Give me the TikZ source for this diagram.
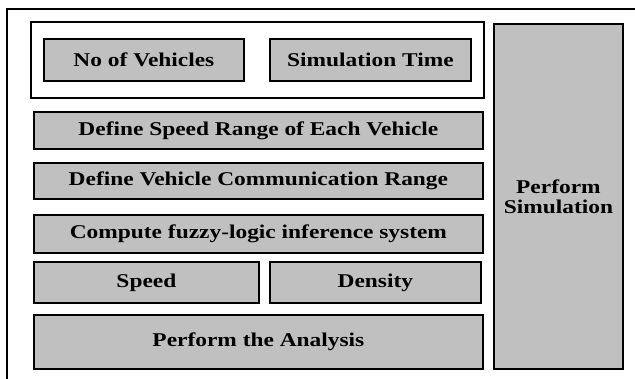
\documentclass[tikz,border=0pt]{standalone}
\usepackage{fontspec}
\setmainfont{Liberation Serif}[FakeStretch=1.2]
\definecolor{boxgray}{HTML}{C0C0C0}
\begin{document}
\begin{tikzpicture}[x=1pt,y=-1pt,
  box/.style={draw=black,fill=boxgray,line width=1.8pt,inner sep=0pt,anchor=north west,
    font=\bfseries\fontsize{19.5}{20}\selectfont,align=center},
  frame/.style={draw=black,line width=1.5pt},
  group/.style={draw=black,fill=white,line width=1.8pt,inner sep=0pt,anchor=north west}]
\useasboundingbox (0,0) rectangle (635,379);
\draw[frame] (7,379) -- (7,9) -- (635,9);
\node[group,minimum width=453pt,minimum height=76pt] (grp) at (30,21) {};
\node[box,minimum width=200pt,minimum height=42pt] (nov) at (43,38) {No of Vehicles};
\node[box,minimum width=201pt,minimum height=42pt] (simt) at (269,38) {Simulation Time};
\node[box,minimum width=449pt,minimum height=37pt] (dsr) at (33,111) {Define Speed Range of Each Vehicle};
\node[box,minimum width=449pt,minimum height=36pt] (dcr) at (33,162) {Define Vehicle Communication Range};
\node[box,minimum width=449pt,minimum height=38pt] (cfl) at (33,214) {Compute fuzzy-logic inference system};
\node[box,minimum width=225pt,minimum height=41pt] (spd) at (33,261) {Speed};
\node[box,minimum width=211pt,minimum height=41pt] (den) at (269,261) {Density};
\node[box,minimum width=449pt,minimum height=54pt] (ana) at (33,314) {Perform the Analysis};
\node[box,minimum width=129pt,minimum height=345pt] (sim) at (493,23) {Perform\\Simulation};
\end{tikzpicture}
\end{document}
